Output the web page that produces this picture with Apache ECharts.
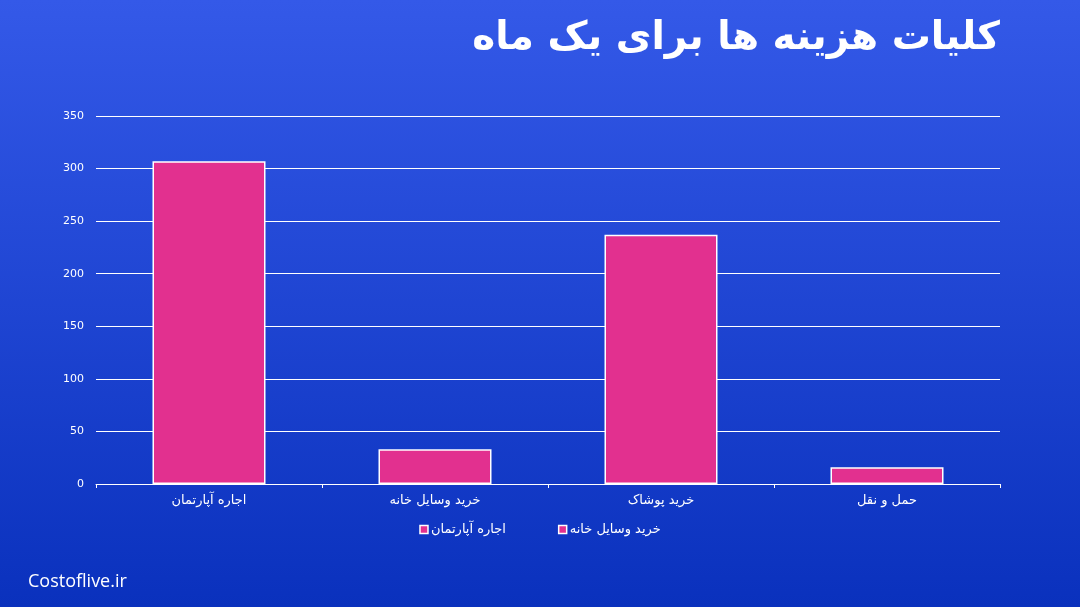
<!DOCTYPE html>
<html><head><meta charset="utf-8">
<script src="https://cdn.jsdelivr.net/npm/echarts@6/dist/echarts.min.js"></script>
<style>html,body{margin:0;padding:0;}#c{width:1080px;height:607px;}</style>
</head><body><div id="c"></div>
<script>
const categories = ['اجاره آپارتمان', 'خرید وسایل خانه', 'خرید پوشاک', 'حمل و نقل'];
const values = [307, 33, 237, 16];
const legendNames = ['اجاره آپارتمان', 'خرید وسایل خانه'];
const titleText = 'کلیات هزینه ها برای یک ماه';
const footerText = 'Costoflive.ir';

const chart = echarts.init(document.getElementById('c'));
const pink = '#e2308f';
const series = [{
  name: legendNames[0], type: 'bar', stack: 't', barWidth: '50%', data: values,
  itemStyle: { color: pink, borderColor: '#ffffff', borderWidth: 1.5 }
}, {
  name: legendNames[1], type: 'bar', stack: 't', data: [],
  itemStyle: { color: pink, borderColor: '#ffffff', borderWidth: 1.5 }
}];
chart.setOption({
  backgroundColor: new echarts.graphic.LinearGradient(0, 0, 0, 1, [
    { offset: 0, color: '#3459e8' }, { offset: 1, color: '#0a31bd' }]),
  textStyle: { fontFamily: 'DejaVu Sans' },
  title: {
    text: titleText, right: 75, top: 14,
    textStyle: { color: '#ffffff', fontSize: 39, fontWeight: 'bold', fontFamily: 'DejaVu Sans' }
  },
  legend: {
    data: legendNames, bottom: 66, left: 'center', itemGap: 52,
    itemWidth: 8, itemHeight: 8, icon: 'rect',
    itemStyle: { color: pink, borderColor: '#ffffff', borderWidth: 1.5 },
    textStyle: { color: '#ffffff', fontSize: 13, padding: [0, 0, 0, -2] }
  },
  grid: { left: 96, right: 80, top: 116, bottom: 123 },
  xAxis: {
    type: 'category', data: categories,
    axisLine: { lineStyle: { color: '#ffffff', width: 1 } },
    axisTick: { show: true, length: 4, lineStyle: { color: '#ffffff' } },
    axisLabel: { color: '#ffffff', fontSize: 13, margin: 10 }
  },
  yAxis: {
    type: 'value', min: 0, max: 350, interval: 50,
    axisLine: { show: false }, axisTick: { show: false },
    axisLabel: { color: '#ffffff', fontSize: 11, margin: 12 },
    splitLine: { lineStyle: { color: '#ffffff', width: 1 } }
  },
  series: series,
  graphic: [{
    type: 'text', left: 28, top: 573,
    style: { text: footerText, fill: '#ffffff', fontSize: 18, fontFamily: 'Open Sans' }
  }]
});
</script></body></html>
